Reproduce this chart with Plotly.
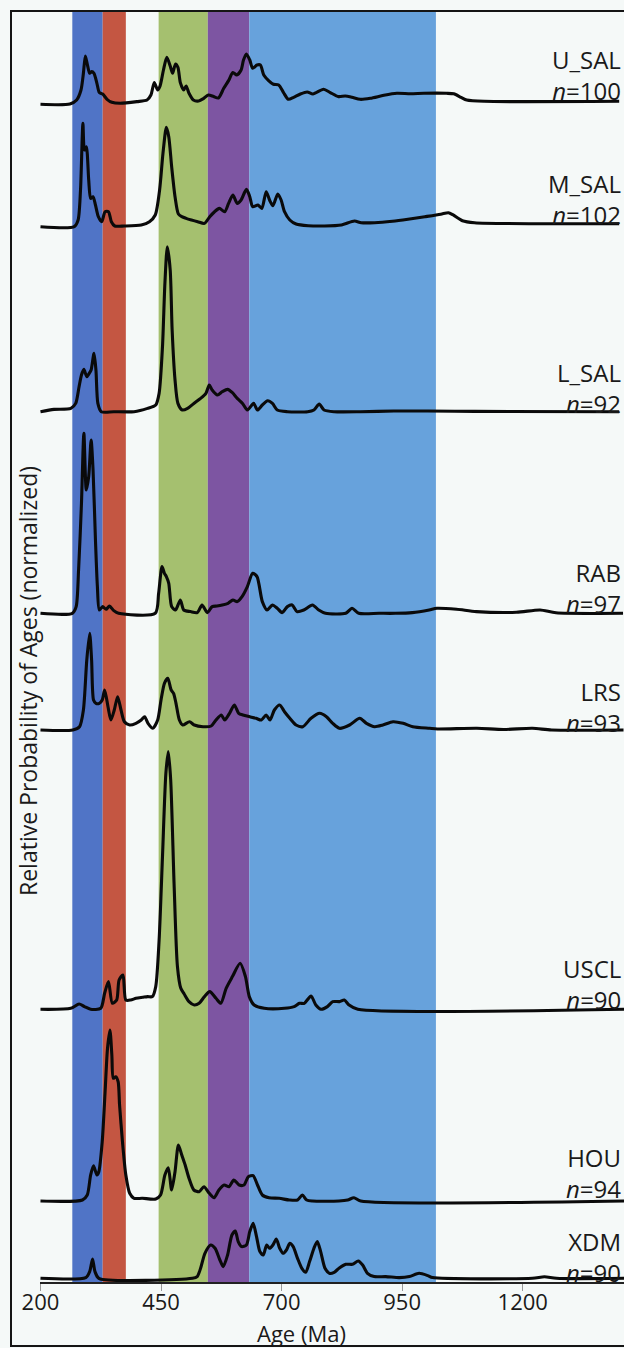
import plotly.graph_objects as go

# ---------------- data ----------------
samples = ["U_SAL", "M_SAL", "L_SAL", "RAB", "LRS", "USCL", "HOU", "XDM"]
sample_n = [100, 102, 92, 97, 93, 90, 94, 90]

u_sal_age = [200, 261, 275, 284, 289, 293, 297, 302, 306, 311, 317, 322, 329, 338, 348, 365, 400, 421, 429, 436,
             443, 448, 455, 462, 469, 474, 480, 485, 490, 497, 502, 508, 517, 528, 538, 548, 559, 569, 580, 590,
             599, 607, 616, 621, 627, 634, 640, 649, 656, 663, 673, 683, 694, 704, 714, 725, 739, 753, 765, 787,
             801, 818, 832, 846, 863, 884, 912, 939, 967, 995, 1042, 1057, 1072, 1084, 1120, 1400]
u_sal_prob = [0, 0.3, 4.3, 14.3, 31, 48.3, 40.3, 31, 32.7, 31, 21, 11.7, 10.3, 5, 2, 1, 2.7, 4.3, 9.3, 21.7,
              14.3, 18.3, 34.3, 47, 38.3, 31, 40.3, 37, 21.7, 14.3, 18.3, 11, 4.3, 3.3, 5.7, 9.3, 7.7, 6.3, 16, 23.7,
              31.7, 29.3, 34.3, 44.3, 50.3, 44.3, 36, 39.3, 39.3, 29.3, 23.7, 20, 19.3, 11.7, 5, 7, 10.3, 12.3, 10.3, 15,
              11.7, 7.7, 8.3, 7, 5, 6, 9, 11, 10.5, 11, 11, 10.5, 7, 4.3, 3, 3]

m_sal_age = [200, 270, 278, 283, 288, 291, 295, 300, 304, 309, 314, 320, 327, 334, 341, 347, 354, 374, 409, 426,
             438, 447, 454, 461, 466, 472, 479, 486, 493, 502, 513, 526, 540, 551, 561, 571, 582, 590, 599, 608,
             616, 627, 634, 640, 651, 659, 668, 675, 682, 692, 699, 706, 717, 730, 755, 789, 824, 851, 865, 893,
             930, 962, 997, 1030, 1046, 1055, 1075, 1100, 1400]
m_sal_prob = [0, 0, 6.7, 36.7, 103.3, 76.7, 80, 46.7, 28.3, 30, 21.7, 10, 5, 15, 15, 5, 0.7, 0.7, 1.7, 5,
              11.7, 36.7, 73.3, 99.3, 90, 60, 30, 12.7, 10, 8.3, 6.7, 5, 3.3, 10, 15, 18.3, 15, 23.3, 31.7, 23.3,
              26.7, 37.3, 30, 20, 21.7, 18.3, 35, 26.7, 21, 32.7, 26.7, 15, 6.7, 2.7, 1, 0.7, 1.7, 5.7, 4, 4,
              5.5, 7.5, 10, 12.5, 14, 12, 6, 4, 3]

l_sal_age = [200, 228, 263, 273, 280, 285, 290, 296, 301, 305, 311, 315, 319, 326, 352, 394, 422, 439, 446, 453,
             458, 463, 469, 473, 479, 485, 494, 505, 518, 532, 543, 550, 556, 567, 577, 588, 598, 608, 619, 629,
             642, 650, 660, 671, 681, 691, 712, 754, 767, 778, 788, 809, 864, 933, 1003, 1100, 1400]
l_sal_prob = [0, 2.3, 3.3, 8.3, 25, 36.7, 42.3, 35, 38.3, 41.7, 58.3, 41.7, 8.3, 0, 0, 0, 3.3, 6.7, 18.3, 65,
              128.3, 165, 141.7, 81.7, 31.7, 8.3, 1.7, 3.3, 8.3, 13.3, 18.3, 26.7, 21.7, 16.7, 20, 22.3, 19, 13.3, 8.3, 1.7,
              8.3, 1.7, 6.7, 11, 8.3, 1.7, 0, 0, 1.7, 7.7, 1.7, 0, 0, 0.7, 0.7, 0.3, 0]

rab_age = [200, 266, 274, 279, 285, 290, 295, 300, 305, 309, 314, 318, 322, 329, 336, 343, 352, 362, 438, 445,
           452, 457, 461, 466, 472, 480, 490, 497, 511, 525, 535, 546, 556, 566, 577, 589, 599, 608, 618, 629,
           640, 649, 660, 670, 681, 691, 701, 712, 722, 732, 746, 764, 777, 791, 833, 846, 860, 902, 936, 971,
           1006, 1022, 1063, 1104, 1187, 1236, 1269, 1408]
rab_prob = [0, 0, 6.7, 43.3, 110, 180, 123.3, 136.7, 173.3, 143.3, 73.3, 26.7, 3.3, 6.7, 4, 7.3, 2.7, 0, 0, 20,
            46.7, 40, 36.7, 30, 6.7, 3.3, 13.3, 3.3, 1.7, 0.7, 8.3, 0.7, 6.7, 7.3, 8.3, 10, 13.3, 11.7, 16.7, 26.7,
            40, 36.7, 11.7, 3.3, 8.3, 5, 0.7, 6.7, 8.3, 1.7, 3.3, 8.3, 3.3, 0, 0, 5, 0, 0, 0, 0.7,
            3.3, 5, 4, 1.7, 1, 3.3, 0.5, 0]

lrs_age = [200, 267, 281, 289, 296, 302, 306, 310, 315, 322, 328, 333, 340, 346, 353, 360, 367, 374, 385, 398,
           409, 416, 423, 433, 443, 450, 457, 464, 471, 476, 481, 488, 495, 509, 519, 537, 554, 564, 575, 582,
           592, 602, 611, 620, 634, 647, 658, 668, 676, 685, 696, 706, 717, 730, 744, 761, 779, 793, 806, 820,
           841, 862, 876, 893, 910, 931, 952, 972, 1007, 1023, 1105, 1160, 1220, 1260, 1409]
lrs_prob = [0, 0, 3.3, 20, 70, 96.7, 70, 30, 26.7, 26.7, 30, 40, 23.3, 10, 20, 33.3, 20, 8.3, 5, 6.7,
            10, 13.3, 6.7, 1.7, 10, 30, 46.7, 51.7, 40, 36.7, 26.7, 10, 5, 8.3, 5, 3.3, 4, 10, 15, 10,
            16.7, 25, 16.7, 15, 13.3, 11.7, 10, 15, 10, 20, 25, 18.3, 11.7, 5, 3.3, 11.7, 16.7, 13.3, 6.7, 1.7,
            5, 11.7, 6.7, 3.3, 5, 8.3, 6.7, 3.3, 1.7, 1, 1.7, 0.5, 1.7, 0, 0]

uscl_age = [200, 263, 280, 291, 304, 325, 333, 341, 349, 358, 363, 371, 377, 387, 398, 412, 422, 432, 439, 446,
            453, 460, 465, 470, 477, 484, 491, 498, 508, 519, 529, 540, 551, 564, 574, 585, 598, 614, 625, 633,
            643, 664, 706, 726, 737, 747, 761, 771, 782, 795, 806, 820, 830, 840, 858, 1410]
uscl_prob = [0, 1, 5.3, 2.7, 0, 1, 16, 27.7, 6, 9.3, 29.3, 34.3, 9.3, 9.3, 11, 12, 12.7, 12.7, 22.7, 69.3,
             152.7, 236, 257.7, 229.3, 126, 42.7, 21, 15.3, 7.7, 4.3, 6, 12.7, 17.7, 11, 6, 21, 32.7, 46, 32.7, 12.7,
             4.3, 1, 1, 2.7, 6, 6, 13.3, 4.3, 0, 2.7, 7.7, 7.7, 9.3, 4.3, 0, 0]

hou_age = [200, 287, 297, 304, 310, 317, 321, 328, 334, 339, 344, 348, 351, 356, 361, 364, 370, 377, 385, 394,
           411, 439, 449, 458, 465, 472, 479, 486, 493, 500, 508, 518, 529, 539, 550, 560, 570, 581, 591, 601,
           612, 622, 631, 641, 650, 660, 674, 695, 716, 733, 743, 752, 764, 819, 837, 850, 864, 1410]
hou_prob = [0, 1, 6, 26, 35.3, 26, 29.3, 59.3, 109.3, 152.7, 171, 146, 122.7, 124.3, 119.3, 96, 59.3, 26, 7.7, 2.7,
            2.7, 2, 6, 26, 33.3, 11, 29.3, 56, 46, 36, 22.7, 11, 9.3, 14.3, 7.7, 3.3, 11, 16, 14.3, 21,
            16, 16, 24.3, 25.3, 16, 6, 3.3, 2.7, 1, 1, 6, 1, 0, 0, 1, 3.3, 0, 0]

xdm_age = [200, 294, 302, 308, 313, 321, 515, 525, 532, 541, 553, 562, 572, 579, 588, 597, 604, 610, 617, 627,
           634, 641, 648, 655, 662, 669, 675, 682, 689, 696, 703, 710, 717, 724, 733, 742, 750, 758, 767, 774,
           781, 790, 799, 809, 819, 833, 847, 859, 868, 878, 892, 916, 944, 965, 985, 1003, 1013, 1220, 1245, 1270,
           1410]
xdm_prob = [0, 0.7, 6.7, 19.3, 6.7, 0, 0, 1.7, 10, 25, 33.3, 30, 18.3, 11.7, 23.3, 43.3, 47.3, 36.7, 31.7, 33.3,
            46.7, 55, 41.7, 26.7, 23.3, 33.3, 30, 33.3, 39.3, 30, 25, 28.3, 35, 31.7, 20, 10, 6, 16.7, 30, 36.7,
            26.7, 10, 5, 6, 10, 14, 14, 17.3, 13.3, 5, 1.7, 1.7, 0.7, 1.7, 5, 2.7, 0.7, 0, 1.5, 0,
            0]

ages = [u_sal_age, m_sal_age, l_sal_age, rab_age, lrs_age, uscl_age, hou_age, xdm_age]
probs = [u_sal_prob, m_sal_prob, l_sal_prob, rab_prob, lrs_prob, uscl_prob, hou_prob, xdm_prob]
for a, p, s in zip(ages, probs, samples):
    assert len(a) == len(p), s

# age bands (Ma) and their colours
band_start = [266, 329, 445, 547, 633]
band_end = [329, 377, 547, 633, 1020]
band_colors = ["#5074c6", "#c45642", "#a5c06f", "#7d55a2", "#67a2dc"]

x_ticks = [200, 450, 700, 950, 1200]

# ---------------- layout constants ----------------
W, H = 624, 1348
ML, MT, MB = 40, 11, 66
plot_w = W - ML
plot_h = H - MT - MB
x_range = [199, 1410]
y_range = [0, plot_h]
offsets = [1177.7, 1055.3, 870.3, 668.7, 552, 272.7, 81, 3.7]       # stacking baseline of each curve
label_dy = [29, 27.5, 24.2, 25, 22.8, 25.3, 27.7, 21.5]            # label block centre above baseline

FONT = "Open Sans"
bg = "#f5f9f8"

fig = go.Figure()

for a, p, off in zip(ages, probs, offsets):
    fig.add_trace(go.Scatter(
        x=a, y=[off + v for v in p], mode="lines",
        line=dict(color="#0a0a0a", width=3.1, shape="spline", smoothing=0.7),
        hoverinfo="skip", showlegend=False, cliponaxis=True))

shapes = []
for s, e, c in zip(band_start, band_end, band_colors):
    shapes.append(dict(type="rect", xref="x", yref="paper", x0=s, x1=e, y0=0, y1=1,
                       fillcolor=c, line=dict(width=0), layer="below"))

# outer frame
fx0 = (11 - ML) / plot_w
fy0 = (MT + plot_h - 1346) / plot_h
shapes.append(dict(type="rect", xref="paper", yref="paper", x0=fx0, x1=1.2, y0=fy0, y1=1,
                   line=dict(color="#151515", width=2), fillcolor="rgba(0,0,0,0)", layer="above"))

annotations = []
lx = (622 - ML) / plot_w
for name, n, off, d in zip(samples, sample_n, offsets, label_dy):
    annotations.append(dict(text=f"{name}<br><i>n</i>={n}", x=lx, xref="paper", xanchor="right",
                            align="right", y=off + d, yref="y", yanchor="middle", showarrow=False,
                            borderpad=0, font=dict(family=FONT, size=24, color="#1a1a1a")))

annotations.append(dict(text="Age (Ma)", x=(301 - ML) / plot_w, xref="paper", xanchor="center",
                        y=(MT + plot_h - 1333) / plot_h, yref="paper", yanchor="middle", showarrow=False,
                        font=dict(family=FONT, size=22, color="#1a1a1a")))
annotations.append(dict(text="Relative Probability of Ages (normalized)", x=(28 - ML) / plot_w, xref="paper",
                        xanchor="center", y=(MT + plot_h - 681) / plot_h, yref="paper", yanchor="middle",
                        textangle=-90, showarrow=False, font=dict(family=FONT, size=23, color="#1a1a1a")))

fig.update_layout(
    width=W, height=H,
    margin=dict(l=ML, r=0, t=MT, b=MB, pad=0),
    paper_bgcolor=bg, plot_bgcolor=bg,
    shapes=shapes, annotations=annotations,
    xaxis=dict(range=x_range, tickvals=x_ticks, ticktext=[str(t) for t in x_ticks],
               showgrid=False, zeroline=False, showline=True, linecolor="#222", linewidth=1.6,
               ticks="outside", ticklen=7, tickcolor="#999", tickwidth=1, ticklabelstandoff=-7,
               tickfont=dict(family=FONT, size=22, color="#1a1a1a")),
    yaxis=dict(range=y_range, visible=False, showgrid=False, zeroline=False),
)

fig.write_html("out.html", config={"displayModeBar": False},
               post_script="document.body.style.margin='0';document.body.style.overflow='hidden';")
